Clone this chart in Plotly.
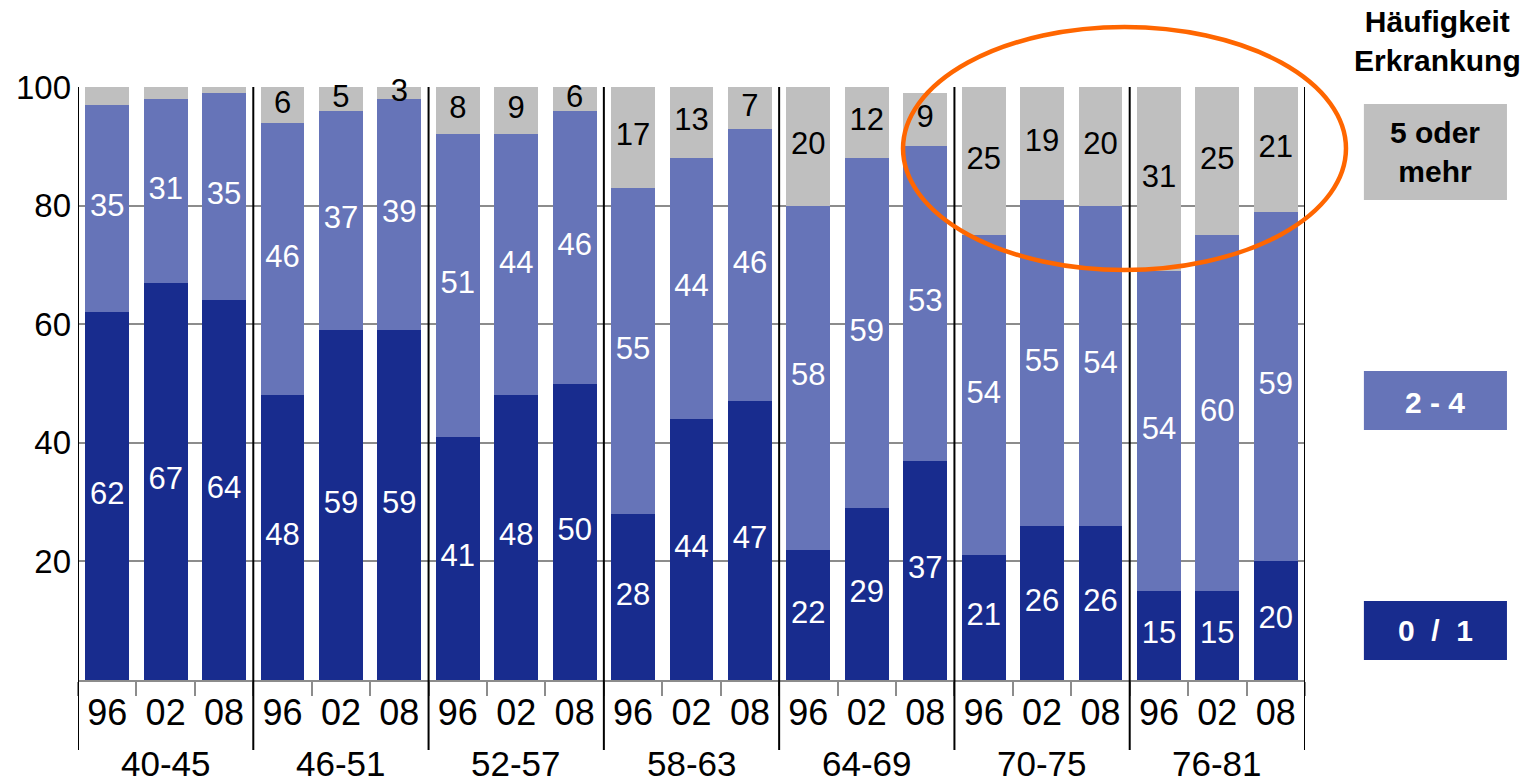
import plotly.graph_objects as go

# Age cohorts and survey years
groups = ["40-45", "46-51", "52-57", "58-63", "64-69", "70-75", "76-81"]
years = ["96", "02", "08"]

# Share (%) per cohort and year, by frequency of illness
share_0_1 = [62, 67, 64, 48, 59, 59, 41, 48, 50, 28, 44, 47, 22, 29, 37, 21, 26, 26, 15, 15, 20]
share_2_4 = [35, 31, 35, 46, 37, 39, 51, 44, 46, 55, 44, 46, 58, 59, 53, 54, 55, 54, 54, 60, 59]
share_5_plus = [3, 2, 1, 6, 5, 3, 8, 9, 6, 17, 13, 7, 20, 12, 9, 25, 19, 20, 31, 25, 21]
# the top segment of the first cohort carries no number
label_5_plus = [False, False, False] + [True] * 18

y_ticks = [20, 40, 60, 80, 100]

DARK = "#182C8E"
MID = "#6674B8"
GREY = "#BFBFBF"
ORANGE = "#FF6600"
AXIS_GREY = "#8C8C8C"
FONT = "Liberation Sans, Arial, sans-serif"

n_years = len(years)
pos = list(range(len(groups) * n_years))          # one slot per (cohort, year)
year_text = [y for _ in groups for y in years]

fig = go.Figure()
for vals, color, name in [(share_0_1, DARK, "0 / 1"), (share_2_4, MID, "2 - 4"),
                          (share_5_plus, GREY, "5 oder mehr")]:
    fig.add_trace(go.Bar(x=pos, y=vals, marker=dict(color=color, line=dict(width=0)),
                         name=name, showlegend=False, hoverinfo="skip"))

# value labels centred in the visible part of each segment
lo_c = [a / 2 for a in share_0_1]
mid_c = [a + b / 2 for a, b in zip(share_0_1, share_2_4)]
hi_c = [((a + b) + min(100, a + b + c)) / 2 for a, b, c in zip(share_0_1, share_2_4, share_5_plus)]
hi_txt = [str(v) if show else "" for v, show in zip(share_5_plus, label_5_plus)]

for ys, txt, col in [(lo_c, [str(v) for v in share_0_1], "white"),
                     (mid_c, [str(v) for v in share_2_4], "white"),
                     (hi_c, hi_txt, "black")]:
    fig.add_trace(go.Scatter(x=pos, y=ys, mode="text", text=txt,
                             textposition="middle center",
                             textfont=dict(family=FONT, size=31, color=col),
                             cliponaxis=False, showlegend=False, hoverinfo="skip"))

shapes = []
annotations = []
# cohort separators: through the plot area and down past the year labels
for k in range(len(groups) + 1):
    xb = k * n_years - 0.5
    shapes.append(dict(type="line", xref="x", yref="paper", x0=xb, x1=xb, y0=-0.118, y1=1,
                       line=dict(color="black", width=2), layer="above"))

# cohort names under the year labels
for k, g in enumerate(groups):
    annotations.append(dict(xref="x", yref="paper", x=k * n_years + (n_years - 1) / 2,
                            y=-0.1754, text=g, showarrow=False, xanchor="center",
                            yanchor="bottom", borderpad=0,
                            font=dict(family=FONT, size=35, color="black")))

# highlight ellipse around the oldest cohorts
shapes.append(dict(type="circle", xref="paper", yref="paper",
                   x0=0.6724, x1=1.0334, y0=0.6914, y1=1.1012,
                   line=dict(color=ORANGE, width=4.5), layer="above"))

# legend boxes
legend_boxes = [
    (GREY, 0.8094, 0.9713, "5 oder<br>mehr", "black", 0.8904),
    (MID, 0.4216, 0.5211, "2 - 4", "white", 0.4688),
    (DARK, 0.0337, 0.1332, "0  /  1", "white", 0.0843),
]
for color, y0, y1, text, tcol, yc in legend_boxes:
    shapes.append(dict(type="rect", xref="paper", yref="paper", x0=1.048, x1=1.1646,
                       y0=y0, y1=y1, fillcolor=color, line=dict(width=0)))
    annotations.append(dict(xref="paper", yref="paper", x=1.1063, y=yc, text="<b>" + text + "</b>",
                            showarrow=False, xanchor="center", yanchor="middle",
                            font=dict(family=FONT, size=30, color=tcol)))

annotations.append(dict(xref="paper", yref="paper", x=1.1076, y=1.0776,
                        text="<b>Häufigkeit<br>Erkrankung</b>", showarrow=False,
                        xanchor="center", yanchor="middle",
                        font=dict(family=FONT, size=30, color="black")))

fig.update_layout(
    width=1526, height=784,
    margin=dict(l=78, r=221, t=87, b=104),
    paper_bgcolor="white", plot_bgcolor="white",
    barmode="stack", bargap=0.25,
    shapes=shapes, annotations=annotations,
    font=dict(family=FONT, color="black"),
    xaxis=dict(range=[-0.5, len(pos) - 0.5], tickmode="array", tickvals=pos, ticktext=year_text,
               showline=True, linecolor=AXIS_GREY, linewidth=2,
               ticks="",
               minor=dict(tickmode="array", tickvals=[p - 0.5 for p in pos] + [len(pos) - 0.5],
                          ticks="outside", ticklen=14, tickwidth=2, tickcolor=AXIS_GREY,
                          showgrid=False),
               tickfont=dict(family=FONT, size=36, color="black"),
               showgrid=False, zeroline=False, automargin=False),
    yaxis=dict(range=[0, 100], tickvals=y_ticks, ticktext=[str(v) for v in y_ticks],
               showgrid=True, gridcolor=AXIS_GREY, gridwidth=2, zeroline=False,
               showline=False, ticks="", ticklabelstandoff=6,
               tickfont=dict(family=FONT, size=33, color="black"), automargin=False),
)

fig.write_html("out.html")
